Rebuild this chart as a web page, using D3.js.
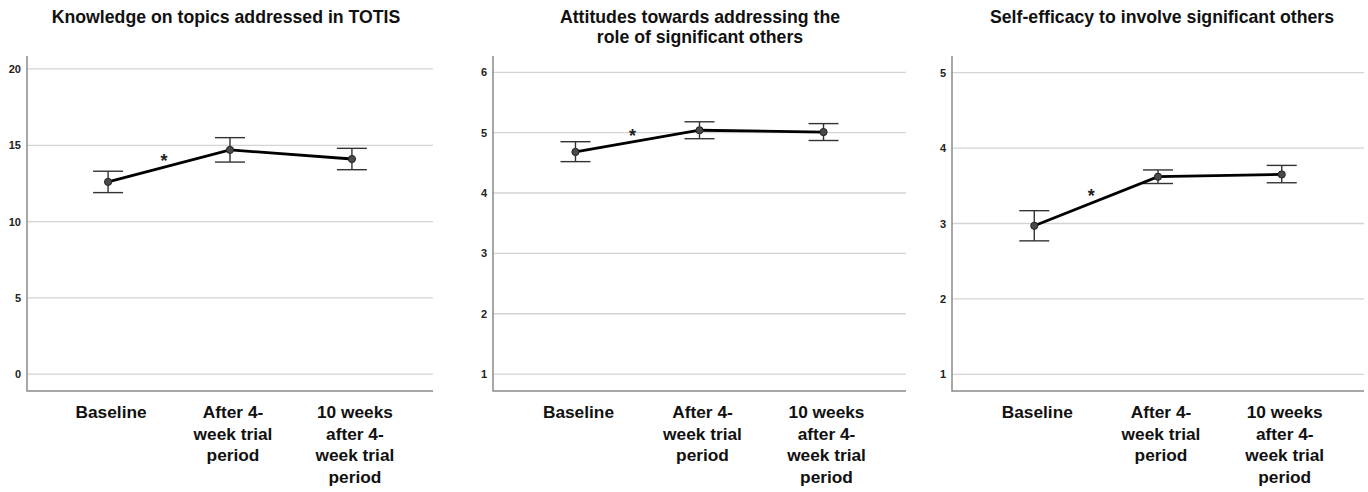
<!DOCTYPE html>
<html>
<head>
<meta charset="utf-8">
<script src="https://cdn.jsdelivr.net/npm/d3@7"></script>
<style>
  html, body { margin: 0; padding: 0; background: #fff; }
  svg { display: block; font-family: "Liberation Sans", Arial, sans-serif; }
  .grid line { stroke: #d4d4d4; stroke-width: 1.3; }
  .axis path, .axis line { stroke: none; }
  .axis text { font-size: 11px; font-weight: bold; fill: #222; }
  .frame { stroke: #8a8a8a; stroke-width: 1.5; fill: none; }
  .title { font-size: 17.7px; font-weight: bold; fill: #111; text-anchor: middle; }
  .cat { font-size: 17.3px; font-weight: bold; fill: #111; text-anchor: middle; }
</style>
</head>
<body>
<svg id="chart" width="1368" height="492"></svg>
<script>
// categories (x), wrapped as in the reference
const categories = ['Baseline', 'After 4-week trial period', '10 weeks after 4-week trial period'];
const categoryLines = [
  ['Baseline'],
  ['After 4-', 'week trial', 'period'],
  ['10 weeks', 'after 4-', 'week trial', 'period']
];

// panel titles
const titles = [
  ['Knowledge on topics addressed in TOTIS'],
  ['Attitudes towards addressing the', 'role of significant others'],
  ['Self-efficacy to involve significant others']
];

// means and 95% CI per panel
const knowledgeMean  = [12.6, 14.7, 14.1];
const knowledgeLow   = [11.9, 13.9, 13.4];
const knowledgeHigh  = [13.3, 15.5, 14.8];

const attitudeMean   = [4.68, 5.04, 5.01];
const attitudeLow    = [4.52, 4.90, 4.87];
const attitudeHigh   = [4.85, 5.18, 5.15];

const efficacyMean   = [2.97, 3.62, 3.65];
const efficacyLow    = [2.77, 3.53, 3.54];
const efficacyHigh   = [3.17, 3.71, 3.77];

// y ticks and domains
const knowledgeTicks = [0, 5, 10, 15, 20];
const attitudeTicks  = [1, 2, 3, 4, 5, 6];
const efficacyTicks  = [1, 2, 3, 4, 5];
const knowledgeDomain = [-1.1, 20.85];
const attitudeDomain  = [0.72, 6.27];
const efficacyDomain  = [0.78, 5.22];

// significance marker between baseline and follow-up
const sigLabel = '*';

const panels = [
  { title: titles[0], mean: knowledgeMean, low: knowledgeLow, high: knowledgeHigh, ticks: knowledgeTicks, domain: knowledgeDomain, left: 27, right: 433, titleX: 226 },
  { title: titles[1], mean: attitudeMean, low: attitudeLow, high: attitudeHigh, ticks: attitudeTicks, domain: attitudeDomain, left: 493, right: 906, titleX: 700 },
  { title: titles[2], mean: efficacyMean, low: efficacyLow, high: efficacyHigh, ticks: efficacyTicks, domain: efficacyDomain, left: 952, right: 1364, titleX: 1162 }
];

const plotTop = 56;
const plotBottom = 391;
const svg = d3.select('#chart');

panels.forEach(p => {
  const g = svg.append('g');

  const x = d3.scalePoint()
    .domain(categories)
    .range([p.left, p.right])
    .padding(0.665);

  const y = d3.scaleLinear()
    .domain(p.domain)
    .range([plotBottom, plotTop]);

  // gridlines
  g.append('g')
    .attr('class', 'grid')
    .selectAll('line')
    .data(p.ticks)
    .enter()
    .append('line')
    .attr('x1', p.left)
    .attr('x2', p.right)
    .attr('y1', d => y(d))
    .attr('y2', d => y(d));

  // y axis labels
  g.append('g')
    .attr('class', 'axis')
    .attr('transform', `translate(${p.left - 6},0)`)
    .call(d3.axisLeft(y).tickValues(p.ticks).tickFormat(d3.format('d')).tickSize(0).tickPadding(0));

  // frame: left + bottom
  g.append('path')
    .attr('class', 'frame')
    .attr('d', `M${p.left},${plotTop}V${plotBottom}H${p.right}`);

  // title
  const t = g.append('text')
    .attr('class', 'title')
    .attr('x', p.titleX)
    .attr('y', 23);
  p.title.forEach((line, i) => {
    t.append('tspan').attr('x', p.titleX).attr('dy', i === 0 ? 0 : 20).text(line);
  });

  // category labels
  categories.forEach((c, i) => {
    const txt = g.append('text')
      .attr('class', 'cat')
      .attr('x', x(c) + 3)
      .attr('y', 418);
    categoryLines[i].forEach((line, j) => {
      txt.append('tspan').attr('x', x(c) + 3).attr('dy', j === 0 ? 0 : 21.7).text(line);
    });
  });

  const rows = categories.map((c, i) => ({ c, m: p.mean[i], lo: p.low[i], hi: p.high[i] }));

  // error bars
  const eb = g.append('g').attr('stroke', '#333').attr('stroke-width', 1.4);
  rows.forEach(d => {
    eb.append('line').attr('x1', x(d.c)).attr('x2', x(d.c)).attr('y1', y(d.lo)).attr('y2', y(d.hi));
    eb.append('line').attr('x1', x(d.c) - 15).attr('x2', x(d.c) + 15).attr('y1', y(d.lo)).attr('y2', y(d.lo));
    eb.append('line').attr('x1', x(d.c) - 15).attr('x2', x(d.c) + 15).attr('y1', y(d.hi)).attr('y2', y(d.hi));
  });

  // mean line
  g.append('path')
    .datum(rows)
    .attr('fill', 'none')
    .attr('stroke', '#000')
    .attr('stroke-width', 2.8)
    .attr('d', d3.line().x(d => x(d.c)).y(d => y(d.m)));

  // markers
  g.selectAll('circle.pt')
    .data(rows)
    .enter()
    .append('circle')
    .attr('class', 'pt')
    .attr('cx', d => x(d.c))
    .attr('cy', d => y(d.m))
    .attr('r', 3.6)
    .attr('fill', '#4a4a4a')
    .attr('stroke', '#222')
    .attr('stroke-width', 1);

  // significance asterisk, above the first segment
  const mx = (x(categories[0]) + x(categories[1])) / 2;
  const my = (y(p.mean[0]) + y(p.mean[1])) / 2;
  g.append('text')
    .attr('x', mx - 5)
    .attr('y', my + 1)
    .attr('text-anchor', 'middle')
    .attr('font-size', 18)
    .attr('font-weight', 'bold')
    .attr('fill', '#222')
    .text(sigLabel);
});
</script>
</body>
</html>
